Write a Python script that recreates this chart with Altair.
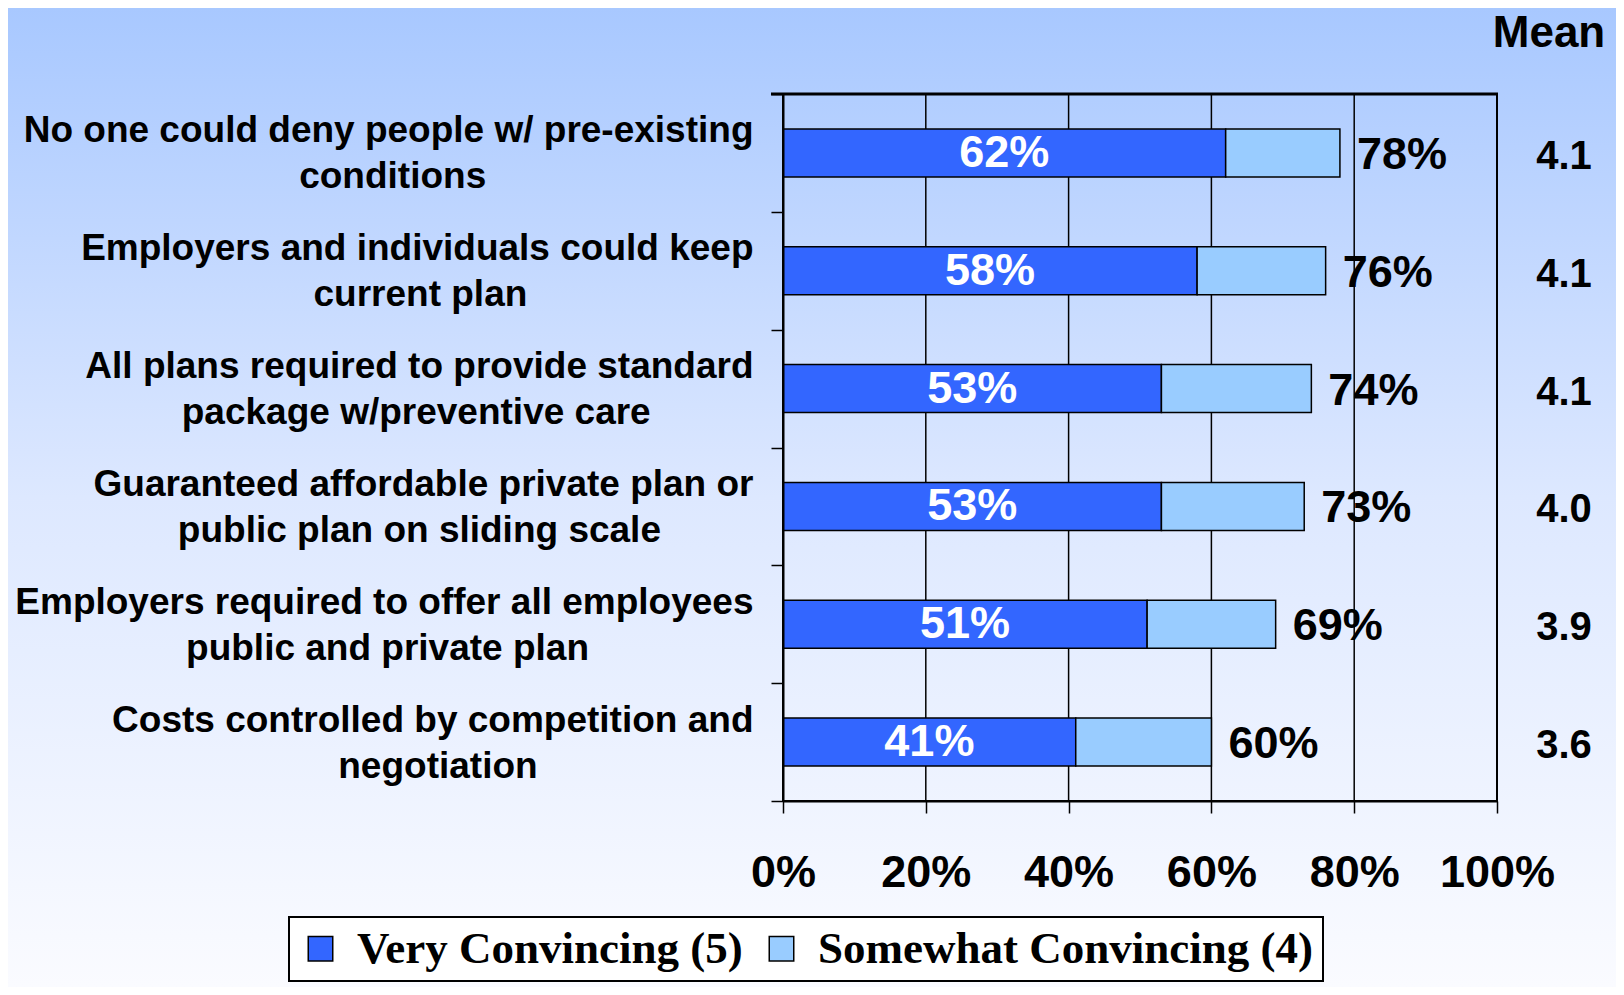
import altair as alt
import pandas as pd

# ---------------- data ----------------
categories = [
    "No one could deny people w/ pre-existing|conditions",
    "Employers and individuals could keep|current plan",
    "All plans required to provide standard|package w/preventive care",
    "Guaranteed affordable private plan or|public plan on sliding scale",
    "Employers required to offer all employees|public and private plan",
    "Costs controlled by competition and|negotiation",
]
very = [62, 58, 53, 53, 51, 41]
somewhat = [16, 18, 21, 20, 18, 19]
total = [78, 76, 74, 73, 69, 60]
means = [4.1, 4.1, 4.1, 4.0, 3.9, 3.6]
series = ["Very Convincing (5)", "Somewhat Convincing (4)"]
series_colors = ["#3366FF", "#99CCFF"]
x_ticks = [0, 20, 40, 60, 80, 100]

# ---------- centre the second line of each label under the first ----------
# (Arial / Liberation Sans Bold advance widths, 1/1000 em)
W = {' ': 278, '/': 278, '-': 333, 'a': 556, 'b': 611, 'c': 556, 'd': 611, 'e': 556,
     'f': 333, 'g': 611, 'h': 611, 'i': 278, 'j': 278, 'k': 556, 'l': 278, 'm': 889,
     'n': 611, 'o': 611, 'p': 611, 'q': 611, 'r': 389, 's': 556, 't': 333, 'u': 611,
     'v': 556, 'w': 778, 'x': 556, 'y': 556, 'z': 500, 'A': 722, 'C': 722, 'E': 667,
     'G': 778, 'N': 722}


def text_width(s):
    return sum(W.get(ch, 556) for ch in s)


labels = []
for c in categories:
    l1, l2 = c.split("|")
    pad = max(0, round((text_width(l1) - text_width(l2)) / 2 / 278))
    # no-break spaces kept from trimming by a trailing word joiner
    labels.append(l1 + "|" + l2 + "\u00a0" * pad + "\u2060")

long_rows = []
for lab, v, s in zip(labels, very, somewhat):
    long_rows.append({"label": lab, "series": series[0], "value": v, "order": 0})
    long_rows.append({"label": lab, "series": series[1], "value": s, "order": 1})
long_df = pd.DataFrame(long_rows)

wide_df = pd.DataFrame({"label": labels, "very": very, "total": total, "mean": means})
grid_df = pd.DataFrame({"v": x_ticks})

# ---------------- layout ----------------
W_PLOT, H_PLOT = 714, 707
PAD = {"left": 775, "top": 86, "right": 119, "bottom": 186}
FONT = "Liberation Sans"

ysort = labels
yband = alt.Scale(paddingInner=0, paddingOuter=0)
xscale = alt.Scale(domain=[0, 100], nice=False)

background = alt.Chart(alt.Data(values=[{}])).mark_rect(
    fill=alt.LinearGradient(
        gradient="linear",
        stops=[
            alt.GradientStop(color="#A8C8FF", offset=0),
            alt.GradientStop(color="#DDE8FF", offset=0.5),
            alt.GradientStop(color="#FAFBFF", offset=1),
        ],
        x1=0, x2=0, y1=0, y2=1,
    )
).encode(
    x=alt.value(-PAD["left"]),
    x2=alt.value(W_PLOT + PAD["right"]),
    y=alt.value(-PAD["top"]),
    y2=alt.value(H_PLOT + PAD["bottom"]),
)

gridlines = alt.Chart(grid_df).mark_rule(color="black", strokeWidth=1.5).encode(
    x=alt.X("v:Q", scale=xscale, title=None),
    y=alt.value(0),
    y2=alt.value(H_PLOT),
)

bars = alt.Chart(long_df).mark_bar(size=48, stroke="black", strokeWidth=1.5).encode(
    y=alt.Y(
        "label:N", sort=ysort, scale=yband, title=None,
        axis=alt.Axis(
            labelExpr="split(datum.label, '|')",
            labelFont=FONT, labelFontSize=37, labelFontWeight="bold", labelColor="black",
            labelLineHeight=46, labelPadding=18, labelLimit=1000, labelOffset=-22,
            tickBand="extent", ticks=True, tickSize=12, tickColor="black", tickWidth=1.5,
            domain=True, domainColor="black", domainWidth=2, grid=False, zindex=1,
        ),
    ),
    x=alt.X(
        "value:Q", stack="zero", title=None, scale=xscale,
        axis=alt.Axis(
            values=x_ticks, labelExpr="datum.value + '%'",
            labelFont=FONT, labelFontSize=45, labelFontWeight="bold", labelColor="black",
            labelPadding=37, labelFlush=False, labelOverlap=False,
            tickSize=12, tickColor="black", tickWidth=1.5,
            grid=False, domain=True, domainColor="black", domainWidth=2, zindex=1,
        ),
    ),
    color=alt.Color(
        "series:N",
        scale=alt.Scale(domain=series, range=series_colors),
        legend=alt.Legend(
            title=None, orient="none", direction="horizontal",
            legendX=-494, legendY=823,
            strokeColor="black", fillColor="white", padding=9,
            symbolType="square", symbolSize=600, symbolStrokeColor="black",
            symbolStrokeWidth=1.5, symbolOpacity=1,
            labelFont="Liberation Serif", labelFontSize=45, labelFontWeight="bold",
            labelColor="black", labelOffset=14, columnPadding=16, labelLimit=1000,
        ),
    ),
    order=alt.Order("order:Q"),
)

inner_labels = alt.Chart(wide_df).transform_calculate(
    mid="datum.very / 2", txt="datum.very + '%'"
).mark_text(
    font=FONT, fontSize=45, fontWeight="bold", color="white", baseline="middle"
).encode(
    x=alt.X("mid:Q", title=None),
    y=alt.Y("label:N", sort=ysort, title=None),
    text="txt:N",
)

total_labels = alt.Chart(wide_df).transform_calculate(
    txt="datum.total + '%'"
).mark_text(
    font=FONT, fontSize=45, fontWeight="bold", color="black", align="left",
    baseline="middle", dx=17, dy=2,
).encode(
    x=alt.X("total:Q", title=None),
    y=alt.Y("label:N", sort=ysort, title=None),
    text="txt:N",
)

mean_labels = alt.Chart(wide_df).mark_text(
    font=FONT, fontSize=40, fontWeight="bold", color="black", align="center",
    baseline="middle", dy=4,
).encode(
    x=alt.value(W_PLOT + 67),
    y=alt.Y("label:N", sort=ysort, title=None),
    text=alt.Text("mean:Q", format=".1f"),
)

mean_header = alt.Chart(alt.Data(values=[{"t": "Mean"}])).mark_text(
    font=FONT, fontSize=44, fontWeight="bold", color="black", align="center",
    baseline="middle",
).encode(
    x=alt.value(W_PLOT + 52),
    y=alt.value(-60),
    text="t:N",
)

frame = alt.Chart(alt.Data(values=[{}])).mark_rect(
    filled=False, stroke="black", strokeWidth=2
).encode(
    x=alt.value(0), x2=alt.value(W_PLOT), y=alt.value(0), y2=alt.value(H_PLOT),
)

top_edge = alt.Chart(alt.Data(values=[{}])).mark_rule(
    color="black", strokeWidth=3
).encode(
    x=alt.value(-12), x2=alt.value(W_PLOT + 1), y=alt.value(0),
)

chart = alt.layer(
    background, gridlines, bars, inner_labels, total_labels, mean_labels,
    mean_header, frame, top_edge
).properties(
    width=W_PLOT, height=H_PLOT,
    autosize=alt.AutoSizeParams(type="none"),
    padding=PAD,
).configure_view(
    stroke=None
).configure_legend(
    strokeWidth=2
)

chart.save("out.html", embed_options={"renderer": "svg", "actions": False})
